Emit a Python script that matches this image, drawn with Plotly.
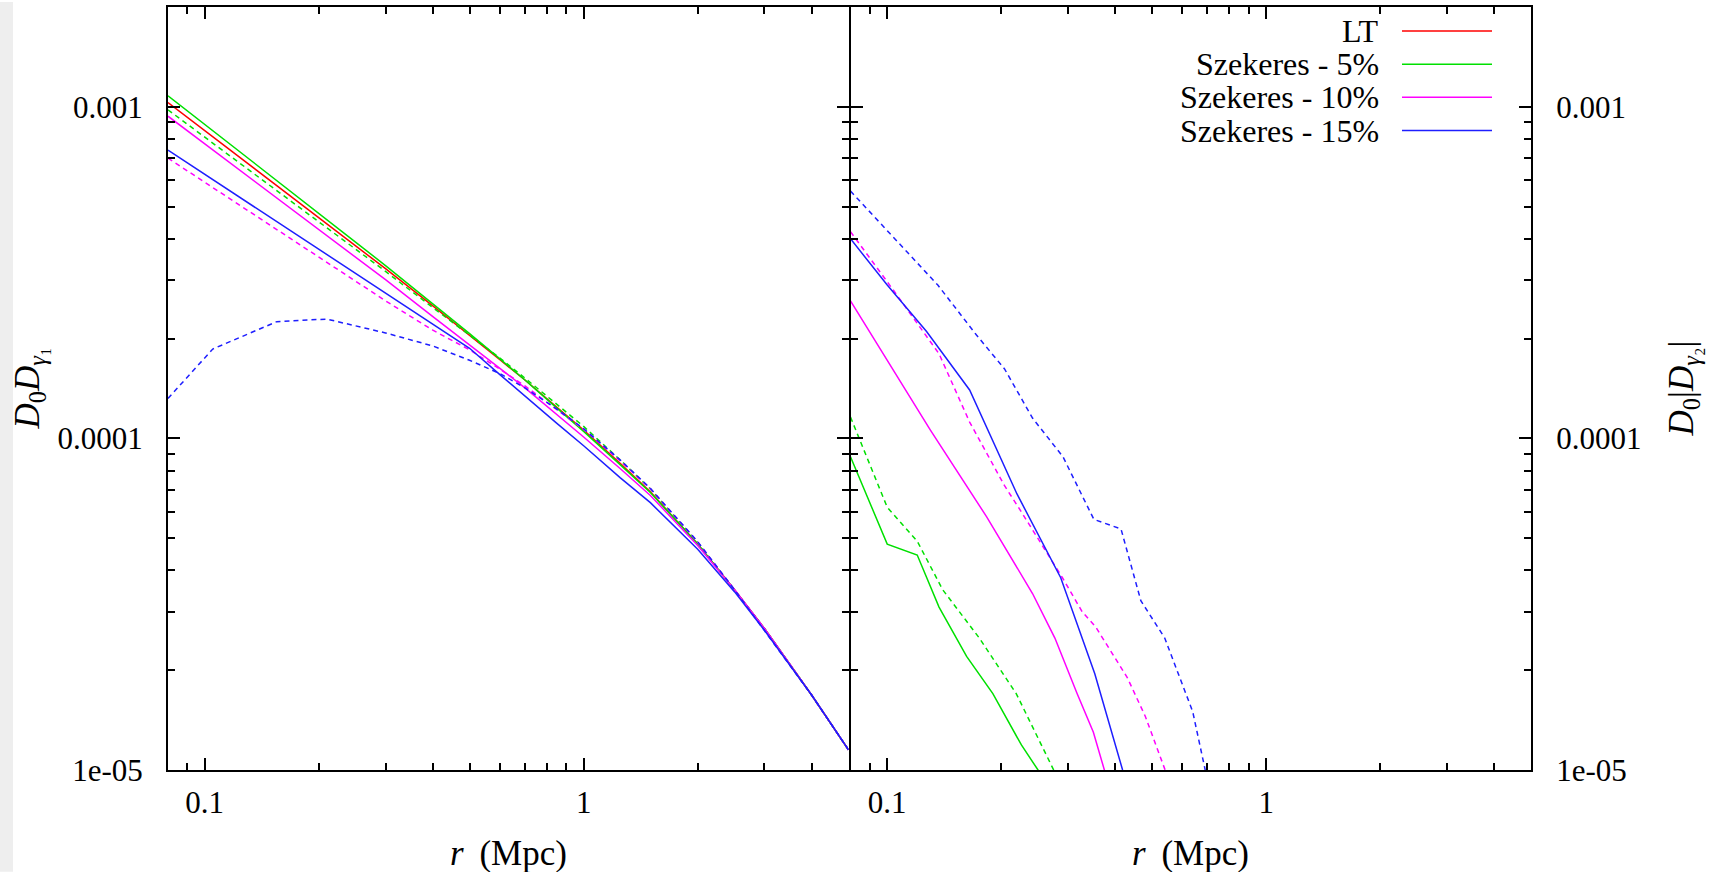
import math
import plotly.graph_objects as go
from plotly.subplots import make_subplots

# ---------------- data ----------------
# Left panel: D0 D_gamma1 vs r (Mpc)
r_left = [0.08, 0.1, 0.13, 0.16, 0.2, 0.25, 0.3, 0.4, 0.5, 0.6, 0.7, 0.85,
          1.0, 1.25, 1.5, 2.0, 2.5, 3.0, 4.0, 5.0]
lt_g1 = [1.03e-3, 8.48e-4, 6.75e-4, 5.63e-4, 4.64e-4, 3.81e-4, 3.25e-4, 2.51e-4,
         2.05e-4, 1.73e-4, 1.50e-4, 1.24e-4, 1.06e-4, 8.4e-5, 6.9e-5, 4.8e-5,
         3.5e-5, 2.67e-5, 1.68e-5, 1.15e-5]
sz5_g1_solid = [1.08e-3, 8.86e-4, 7.02e-4, 5.83e-4, 4.78e-4, 3.91e-4, 3.32e-4, 2.55e-4,
                2.07e-4, 1.74e-4, 1.50e-4, 1.234e-4, 1.05e-4, 8.32e-5, 6.87e-5, 4.8e-5,
                3.5e-5, 2.67e-5, 1.68e-5, 1.15e-5]
sz5_g1_dash = [9.79e-4, 8.10e-4, 6.48e-4, 5.43e-4, 4.50e-4, 3.71e-4, 3.19e-4, 2.48e-4,
               2.05e-4, 1.75e-4, 1.52e-4, 1.265e-4, 1.087e-4, 8.6e-5, 7.04e-5, 4.85e-5,
               3.5e-5, 2.67e-5, 1.68e-5, 1.15e-5]
sz10_g1_solid = [9.37e-4, 7.73e-4, 6.18e-4, 5.17e-4, 4.27e-4, 3.52e-4, 3.01e-4, 2.33e-4,
                 1.92e-4, 1.63e-4, 1.42e-4, 1.18e-4, 1.01e-4, 8.1e-5, 6.73e-5, 4.75e-5,
                 3.5e-5, 2.67e-5, 1.68e-5, 1.15e-5]
sz10_g1_dash = [7.0e-4, 5.92e-4, 4.86e-4, 4.16e-4, 3.52e-4, 2.98e-4, 2.60e-4, 2.12e-4,
                1.85e-4, 1.62e-4, 1.44e-4, 1.22e-4, 1.065e-4, 8.55e-5, 7.05e-5, 4.87e-5,
                3.5e-5, 2.67e-5, 1.68e-5, 1.15e-5]
sz15_g1_solid = [7.4e-4, 6.26e-4, 5.14e-4, 4.40e-4, 3.72e-4, 3.15e-4, 2.75e-4, 2.21e-4,
                 1.87e-4, 1.56e-4, 1.34e-4, 1.11e-4, 9.5e-5, 7.6e-5, 6.4e-5, 4.63e-5,
                 3.45e-5, 2.64e-5, 1.68e-5, 1.15e-5]
r_sz15_g1_dash = [0.08, 0.105, 0.155, 0.21, 0.3, 0.4, 0.5, 0.6, 0.7, 0.85, 1.0, 1.25,
                  1.5, 2.0, 2.5, 3.0, 4.0, 5.0]
sz15_g1_dash = [1.32e-4, 1.86e-4, 2.25e-4, 2.29e-4, 2.08e-4, 1.90e-4, 1.72e-4, 1.57e-4,
                1.42e-4, 1.225e-4, 1.07e-4, 8.6e-5, 7.07e-5, 4.88e-5, 3.5e-5, 2.64e-5,
                1.68e-5, 1.15e-5]

# Right panel: D0 |D_gamma2| vs r (Mpc)
r_sz5_g2_solid = [0.08, 0.1, 0.12, 0.137, 0.162, 0.19, 0.226, 0.25, 0.26]
sz5_g2_solid = [8.8e-5, 4.8e-5, 4.45e-5, 3.1e-5, 2.2e-5, 1.7e-5, 1.19e-5, 1.0e-5, 9.2e-6]
r_sz5_g2_dash = [0.08, 0.1, 0.12, 0.14, 0.175, 0.219, 0.275, 0.29]
sz5_g2_dash = [1.16e-4, 6.2e-5, 4.9e-5, 3.5e-5, 2.5e-5, 1.7e-5, 1.0e-5, 8.8e-6]
r_sz10_g2_solid = [0.08, 0.13, 0.183, 0.242, 0.277, 0.317, 0.35, 0.375, 0.39]
sz10_g2_solid = [2.6e-4, 1.06e-4, 5.8e-5, 3.4e-5, 2.5e-5, 1.7e-5, 1.3e-5, 1.0e-5, 8.5e-6]
r_sz10_g2_dash = [0.08, 0.105, 0.137, 0.165, 0.204, 0.226, 0.29, 0.327, 0.355, 0.43,
                  0.48, 0.54, 0.56]
sz10_g2_dash = [4.2e-4, 2.75e-4, 1.8e-4, 1.12e-4, 7.2e-5, 6.0e-5, 3.8e-5, 3.0e-5,
                2.7e-5, 1.9e-5, 1.45e-5, 1.0e-5, 9.0e-6]
r_sz15_g2_solid = [0.08, 0.1, 0.127, 0.165, 0.22, 0.287, 0.353, 0.418, 0.45]
sz15_g2_solid = [4.0e-4, 2.9e-4, 2.1e-4, 1.4e-4, 6.8e-5, 3.8e-5, 1.95e-5, 1.0e-5, 8.0e-6]
r_sz15_g2_dash = [0.08, 0.115, 0.136, 0.172, 0.204, 0.242, 0.291, 0.351, 0.414, 0.467,
                  0.54, 0.64, 0.69, 0.72]
sz15_g2_dash = [5.57e-4, 3.57e-4, 2.9e-4, 2.05e-4, 1.62e-4, 1.15e-4, 8.8e-5, 5.7e-5,
                5.33e-5, 3.24e-5, 2.5e-5, 1.5e-5, 1.0e-5, 8.0e-6]

legend_names = ["LT", "Szekeres - 5%", "Szekeres - 10%", "Szekeres - 15%"]
x_tick_vals = [0.1, 1]
x_tick_text = ["0.1", "1"]
x_minor_vals = [0.09, 0.2, 0.3, 0.4, 0.5, 0.6, 0.7, 0.8, 0.9, 2, 3, 4]
y_tick_vals = [1e-5, 1e-4, 1e-3]
y_tick_text = ["1e-05", "0.0001", "0.001"]
y_minor_vals = [k * 1e-5 for k in range(2, 10)] + [k * 1e-4 for k in range(2, 10)] + [2e-3]

# ---------------- styling ----------------
W, H = 1718, 872
ML, MR, MT, MB = 168, 187, 5, 102
PW = W - ML - MR
PH = H - MT - MB


def px_x(p):
    return (p - ML) / PW


def px_y(p):
    return 1 - (p - MT) / PH


RED = "#ff0000"
GREEN = "#00e000"
MAGENTA = "#ff00ff"
BLUE = "#1e1eff"
SERIF = "Liberation Serif"
LW = 1.5
DASH = "5px,4px"
AX_LW = 2

fig = make_subplots(rows=1, cols=2, horizontal_spacing=0)


def add(x, y, color, dash, col):
    fig.add_trace(go.Scatter(x=x, y=y, mode="lines",
                             line=dict(color=color, width=LW, dash=dash),
                             showlegend=False, hoverinfo="skip"),
                  row=1, col=col)


# left panel
add(r_left, lt_g1, RED, "solid", 1)
add(r_left, sz5_g1_solid, GREEN, "solid", 1)
add(r_left, sz5_g1_dash, GREEN, DASH, 1)
add(r_left, sz10_g1_solid, MAGENTA, "solid", 1)
add(r_left, sz10_g1_dash, MAGENTA, DASH, 1)
add(r_left, sz15_g1_solid, BLUE, "solid", 1)
add(r_sz15_g1_dash, sz15_g1_dash, BLUE, DASH, 1)

# right panel
add(r_sz5_g2_solid, sz5_g2_solid, GREEN, "solid", 2)
add(r_sz5_g2_dash, sz5_g2_dash, GREEN, DASH, 2)
add(r_sz10_g2_solid, sz10_g2_solid, MAGENTA, "solid", 2)
add(r_sz10_g2_dash, sz10_g2_dash, MAGENTA, DASH, 2)
add(r_sz15_g2_solid, sz15_g2_solid, BLUE, "solid", 2)
add(r_sz15_g2_dash, sz15_g2_dash, BLUE, DASH, 2)

tickfont = dict(family=SERIF, size=31, color="black")

xaxis_common = dict(
    type="log", range=[math.log10(0.08), math.log10(5)],
    tickmode="array", tickvals=x_tick_vals, ticktext=x_tick_text,
    ticks="inside", ticklen=12, tickwidth=1.5, tickcolor="black",
    showline=True, linecolor="black", linewidth=AX_LW, mirror="ticks",
    showgrid=False, zeroline=False, tickfont=tickfont, ticklabelstandoff=4,
    minor=dict(ticks="inside", ticklen=7, tickwidth=1.5, tickcolor="black",
               tickmode="array", tickvals=x_minor_vals, showgrid=False),
)
yaxis_common = dict(
    type="log", range=[-5, math.log10(0.002)],
    tickmode="array", tickvals=y_tick_vals, ticktext=y_tick_text,
    ticks="inside", ticklen=12, tickwidth=1.5, tickcolor="black",
    showline=True, linecolor="black", linewidth=AX_LW, mirror="ticks",
    showgrid=False, zeroline=False, tickfont=tickfont, ticklabelstandoff=17,
    minor=dict(ticks="inside", ticklen=7, tickwidth=1.5, tickcolor="black",
               tickmode="array", tickvals=y_minor_vals, showgrid=False),
)

fig.update_xaxes(**xaxis_common)
fig.update_yaxes(**yaxis_common)
# split the two panels by one line width so their border lines coincide
gap = AX_LW / 2 / PW
fig.update_layout(
    xaxis=dict(domain=[0, 0.5 - gap]),
    xaxis2=dict(domain=[0.5 + gap, 1]),
    yaxis2=dict(side="right", showticklabels=True),
)

title_font = dict(family=SERIF, size=35, color="black")
xtitle = "<i>r</i>\u2009 (Mpc)"
annotations = [
    dict(text=xtitle, xref="paper", yref="paper", x=0.25, y=0,
         yshift=-83, xanchor="center", yanchor="middle", showarrow=False,
         font=title_font),
    dict(text=xtitle, xref="paper", yref="paper", x=0.75, y=0,
         yshift=-83, xanchor="center", yanchor="middle", showarrow=False,
         font=title_font),
    dict(text="<i>D</i><sub>0</sub><i>D</i><sub><i>γ</i>₁</sub>", xref="paper", yref="paper",
         x=px_x(29), y=0.5, textangle=-90, xanchor="center", yanchor="middle",
         showarrow=False, font=title_font),
    dict(text="<i>D</i><sub>0</sub>|<i>D</i><sub><i>γ</i>₂</sub>|", xref="paper", yref="paper",
         x=px_x(1683), y=0.5, textangle=-90, xanchor="center", yanchor="middle",
         showarrow=False, font=title_font),
]

shapes = [
    dict(type="rect", xref="paper", yref="paper", x0=px_x(0), x1=px_x(13),
         y0=px_y(H), y1=px_y(0), fillcolor="#eeeeee", line=dict(width=0), layer="below"),
]

legend_colors = [RED, GREEN, MAGENTA, BLUE]
for i, (name, c) in enumerate(zip(legend_names, legend_colors)):
    yp = 29 + 33.3 * i
    annotations.append(dict(text=name, xref="paper", yref="paper", x=px_x(1381), y=px_y(yp),
                            xanchor="right", yanchor="middle", showarrow=False,
                            font=dict(family=SERIF, size=32, color="black")))
    shapes.append(dict(type="line", xref="paper", yref="paper", x0=px_x(1402), x1=px_x(1492),
                       y0=px_y(yp), y1=px_y(yp), line=dict(color=c, width=LW)))

fig.update_layout(
    width=W, height=H,
    margin=dict(l=ML, r=MR, t=MT, b=MB),
    paper_bgcolor="white", plot_bgcolor="white",
    showlegend=False,
    annotations=annotations, shapes=shapes,
)

fig.write_html("out.html")
